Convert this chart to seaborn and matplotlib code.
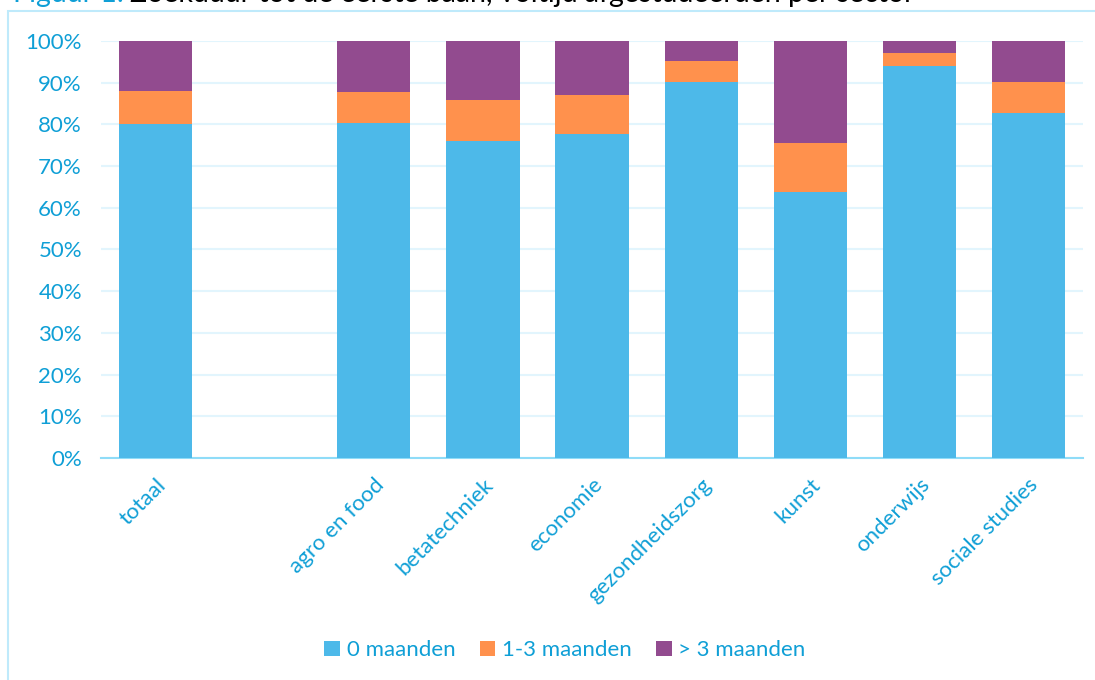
import numpy as np
import pandas as pd

import matplotlib as mpl
import matplotlib.pyplot as plt
from matplotlib.patches import Patch, Rectangle
from matplotlib.ticker import PercentFormatter

import seaborn as sns

# data (share of graduates, in %)
sectors = ["totaal", "", "agro en food", "betatechniek", "economie",
           "gezondheidszorg", "kunst", "onderwijs", "sociale studies"]
nul_maanden = [80.0, np.nan, 80.3, 76.0, 77.8, 90.2, 63.7, 93.9, 82.7]
een_drie_maanden = [8.1, np.nan, 7.4, 9.9, 9.3, 5.0, 11.8, 3.3, 7.4]
meer_drie_maanden = [11.9, np.nan, 12.3, 14.1, 12.9, 4.8, 24.5, 2.8, 9.9]
series_names = ["0 maanden", "1-3 maanden", "> 3 maanden"]

blue = "#4db9e9"
orange = "#ff914d"
purple = "#924b8f"
text_blue = "#0f9fd6"

df = pd.DataFrame({"sector": sectors,
                   "s0": nul_maanden,
                   "s1": een_drie_maanden,
                   "s2": meer_drie_maanden})
# cumulative heights so stacked bars can be drawn as overlapping bars
df["c0"] = df["s0"] / 100
df["c1"] = (df["s0"] + df["s1"]) / 100
df["c2"] = (df["s0"] + df["s1"] + df["s2"]) / 100

sns.set_style("white")
plt.rcParams['font.family'] = ['Lato', 'DejaVu Sans']

fig = plt.figure(figsize=(10.95, 6.8), dpi=100)
ax = fig.add_axes([0.0926, 0.3265, 0.8961, 0.6132])

for col, color in [("c2", purple), ("c1", orange), ("c0", blue)]:
    sns.barplot(data=df, x="sector", y=col, order=sectors, color=color,
                width=0.67, saturation=1, ax=ax, errorbar=None,
                edgecolor="none", linewidth=0, zorder=3)

ax.set_ylim(0, 1)
ax.set_xlim(-0.5, len(sectors) - 0.5)
ax.yaxis.set_major_locator(mpl.ticker.MultipleLocator(0.1))
ax.yaxis.set_major_formatter(PercentFormatter(1.0, decimals=0))
ax.grid(axis="y", color="#e2f5fd", linewidth=1.5, zorder=0)
ax.set_axisbelow(True)
for s in ["top", "right", "left"]:
    ax.spines[s].set_visible(False)
ax.spines["bottom"].set_color("#8fdcf8")
ax.spines["bottom"].set_linewidth(1.5)
ax.set_xlabel("")
ax.set_ylabel("")
ax.tick_params(axis="y", colors=text_blue, labelsize=16, length=0, pad=14)
ax.tick_params(axis="x", colors=text_blue, labelsize=16, length=0, pad=12)
plt.setp(ax.get_xticklabels(), rotation=45, ha="right", rotation_mode="anchor")
for lab in ax.get_xticklabels():
    lab.set_color(text_blue)

# legend
handles = [Patch(facecolor=c, edgecolor="none") for c in (blue, orange, purple)]
leg = fig.legend(handles, series_names, loc="center", bbox_to_anchor=(0.516, 0.044),
                 ncol=3, frameon=False, fontsize=16, handlelength=0.7,
                 handleheight=0.7, handletextpad=0.3, columnspacing=1.1)
for t in leg.get_texts():
    t.set_color(text_blue)

# chart frame
fig.patches.append(Rectangle((8 / 1095, -0.05), 1.1, 1.05 - 11 / 680,
                             transform=fig.transFigure, fill=False,
                             edgecolor="#bfeafb", linewidth=1.5))

# title, cut off at the top like in the source
fig.text(0.113, 0.997, "Figuur 1:", color=text_blue, fontsize=20.5,
         va="baseline", ha="right")
fig.text(0.119, 0.997, "Zoekduur tot de eerste baan, voltijd afgestudeerden per sector",
         color="black", fontsize=20.5, va="baseline")

fig.savefig("out.png", dpi=100)
